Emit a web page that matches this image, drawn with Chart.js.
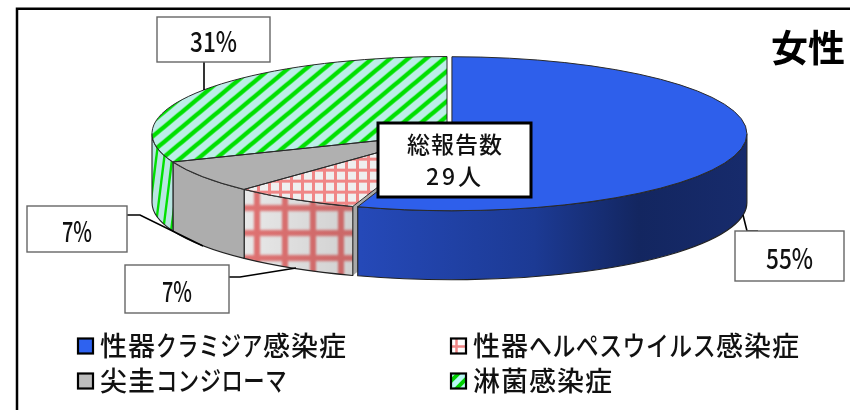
<!DOCTYPE html>
<html>
<head>
<meta charset="utf-8">
<style>
body { margin: 0; background: #fff; }
canvas { display: block; }
</style>
<script src="https://cdn.jsdelivr.net/npm/chart.js@4"></script>
</head>
<body>
<canvas id="pie" width="850" height="410"></canvas>
<script>
const categories = ['性器クラミジア感染症', '性器ヘルペスウイルス感染症', '尖圭コンジローマ', '淋菌感染症'];
const patientCounts = [16, 2, 2, 9];
const percentLabels = ['55%', '7%', '7%', '31%'];
const totalLines = ['総報告数', '29人'];
const chartTitle = '女性';

const FONT = '"Noto Sans CJK JP", "Noto Sans", sans-serif';
const TILT = 0.261;
const DEPTH = 69;
const EXPLODE = 5;

const canvas = document.getElementById('pie');

function makeTile(w, h, draw) {
    const t = document.createElement('canvas');
    t.width = w;
    t.height = h;
    draw(t.getContext('2d'), w, h);
    return t;
}

function gridTile(w, h, bg, line, lw, blur) {
    return makeTile(w, h, (c) => {
        c.fillStyle = bg;
        c.fillRect(0, 0, w, h);
        if (blur) c.filter = 'blur(' + blur + 'px)';
        c.strokeStyle = line;
        c.lineWidth = lw;
        c.beginPath();
        c.moveTo(w / 2, -10); c.lineTo(w / 2, h + 10);
        c.moveTo(-10, h / 2); c.lineTo(w + 10, h / 2);
        c.stroke();
    });
}

function stripeTile(w, h, bg, line, lw) {
    return makeTile(w, h, (c) => {
        c.fillStyle = bg;
        c.fillRect(0, 0, w, h);
        c.strokeStyle = line;
        c.lineWidth = lw;
        for (let dx = -w; dx <= w; dx += w) {
            c.beginPath();
            c.moveTo(dx - w, h * 2);
            c.lineTo(dx + w * 2, -h);
            c.stroke();
        }
    });
}

const patCtx = canvas.getContext('2d');

// patterns on the pie top are stretched back so the tilt does not squash them
function topPattern(tile) {
    const p = patCtx.createPattern(tile, 'repeat');
    p.setTransform(new DOMMatrix().scale(1, 1 / TILT));
    return p;
}

const pinkTop = topPattern(gridTile(11, 11, '#efefef', '#f08686', 3));
const greenTop = topPattern(stripeTile(18, 15, '#bdeee8', '#00e000', 4.4));

const pinkSide = patCtx.createPattern(gridTile(28, 25, '#e8e8e8', '#e07272', 6, 1.2), 'repeat');
pinkSide.setTransform(new DOMMatrix().translate(-9, -4.5));
const greenSide = patCtx.createPattern(stripeTile(8, 64, '#b9e6e2', '#00e000', 2.4), 'repeat');

const pinkKey = patCtx.createPattern(gridTile(11, 11, '#fff', '#f08686', 2.5), 'repeat');
const greenKey = patCtx.createPattern(stripeTile(13, 13, '#b8f8f4', '#00d000', 4), 'repeat');

const topColors = ['#2e5feb', pinkTop, '#b0b0b0', greenTop];
const keyColors = ['#2e62f0', pinkKey, '#bdbdbd', greenKey];

function pieCentre(chart) {
    const a = chart.chartArea;
    return { x: (a.left + a.right) / 2, y: (a.top + a.bottom) / 2 };
}

function applyTilt(ctx, chart, drop) {
    const cy = pieCentre(chart).y;
    ctx.translate(0, cy + drop);
    ctx.scale(1, TILT);
    ctx.translate(0, -cy);
}

function rimPoint(chart, arc, angle) {
    const cy = pieCentre(chart).y;
    return {
        x: arc.x + Math.cos(angle) * arc.outerRadius,
        y: cy + (arc.y - cy + Math.sin(angle) * arc.outerRadius) * TILT
    };
}

// outer wall between two angles, only the part facing the viewer
function wallPath(ctx, chart, arc) {
    const a0 = Math.max(arc.startAngle, 0);
    const a1 = Math.min(arc.endAngle, Math.PI);
    if (a1 <= a0) return false;
    ctx.beginPath();
    ctx.save();
    applyTilt(ctx, chart, 0);
    ctx.arc(arc.x, arc.y, arc.outerRadius, a0, a1);
    ctx.restore();
    ctx.save();
    applyTilt(ctx, chart, DEPTH);
    ctx.arc(arc.x, arc.y, arc.outerRadius, a1, a0, true);
    ctx.restore();
    ctx.closePath();
    return true;
}

function box(ctx, x0, y0, x1, y1, color, lw) {
    ctx.fillStyle = '#fff';
    ctx.fillRect(x0, y0, x1 - x0, y1 - y0);
    ctx.strokeStyle = color;
    ctx.lineWidth = lw;
    ctx.strokeRect(x0, y0, x1 - x0, y1 - y0);
}

function polyline(ctx, pts) {
    ctx.strokeStyle = '#000';
    ctx.lineWidth = 1.6;
    ctx.beginPath();
    pts.forEach((p, i) => (i ? ctx.lineTo(p[0], p[1]) : ctx.moveTo(p[0], p[1])));
    ctx.stroke();
}

const pie3d = {
    id: 'pie3d',
    afterDatasetsUpdate(chart) {
        // pull the biggest slice out of the pie
        const arc = chart.getDatasetMeta(0).data[0];
        const mid = (arc.startAngle + arc.endAngle) / 2;
        arc.x += Math.cos(mid) * EXPLODE;
        arc.y += Math.sin(mid) * EXPLODE;
    },
    beforeDatasetsDraw(chart) {
        const ctx = chart.ctx;
        const arcs = chart.getDatasetMeta(0).data;
        const wallFills = [null, pinkSide, '#adadad', greenSide];

        // cut face of the slice next to the exploded one
        const p = arcs[1];
        const rim = rimPoint(chart, p, p.startAngle);
        const c = pieCentre(chart);
        ctx.fillStyle = '#a8a8a8';
        ctx.beginPath();
        ctx.moveTo(rim.x, rim.y);
        ctx.lineTo(c.x, c.y);
        ctx.lineTo(c.x, c.y + DEPTH);
        ctx.lineTo(rim.x, rim.y + DEPTH);
        ctx.closePath();
        ctx.fill();

        arcs.forEach((arc, i) => {
            if (!wallPath(ctx, chart, arc)) return;
            if (i === 0) {
                const g = ctx.createLinearGradient(arc.x - arc.outerRadius * 0.31, 0, arc.x + arc.outerRadius, 0);
                g.addColorStop(0, '#2549b8');
                g.addColorStop(0.45, '#1c3a94');
                g.addColorStop(0.72, '#132660');
                g.addColorStop(1, '#172b6c');
                ctx.fillStyle = g;
            } else {
                ctx.fillStyle = wallFills[i];
            }
            ctx.fill();
            if (i === 1) {
                const g = ctx.createLinearGradient(rimPoint(chart, arc, arc.endAngle).x, 0, rimPoint(chart, arc, arc.startAngle).x, 0);
                g.addColorStop(0, 'rgba(0,0,0,0)');
                g.addColorStop(1, 'rgba(0,0,0,0.1)');
                ctx.fillStyle = g;
                ctx.fill();
            }
            ctx.strokeStyle = '#222';
            ctx.lineWidth = 1.1;
            ctx.stroke();
        });

        ctx.save();
        applyTilt(ctx, chart, 0);
    },
    afterDatasetsDraw(chart) {
        const ctx = chart.ctx;
        ctx.restore();
        const arcs = chart.getDatasetMeta(0).data;

        // slice outlines are stroked outside the tilt so they stay an even width
        ctx.strokeStyle = '#2a2a2a';
        ctx.lineWidth = 1;
        arcs.forEach((arc) => {
            ctx.beginPath();
            ctx.save();
            applyTilt(ctx, chart, 0);
            ctx.moveTo(arc.x, arc.y);
            ctx.arc(arc.x, arc.y, arc.outerRadius, arc.startAngle, arc.endAngle);
            ctx.closePath();
            ctx.restore();
            ctx.stroke();
        });

        drawLabels(ctx);
        drawLegend(ctx);
        drawFrame(ctx, chart);
    }
};

function drawLabels(ctx) {
    polyline(ctx, [[758, 231], [747, 231], [743, 215]]);
    polyline(ctx, [[127, 215], [140, 215], [203, 246]]);
    polyline(ctx, [[229, 277], [240, 277], [296, 268]]);
    polyline(ctx, [[204, 62], [204, 90]]);

    // one box per slice, in the same order as the categories
    const boxes = [[735, 231, 844, 281], [125, 265, 229, 313], [27, 206, 127, 252], [157, 17, 270, 62]];
    const textWidths = [47, 30, 30, 47];
    ctx.textAlign = 'center';
    ctx.textBaseline = 'middle';
    boxes.forEach((b, i) => {
        box(ctx, b[0], b[1], b[2], b[3], '#666', 1.4);
        ctx.fillStyle = '#111';
        ctx.font = '500 28px ' + FONT;
        ctx.fillText(percentLabels[i], (b[0] + b[2]) / 2, (b[1] + b[3]) / 2 + 2, textWidths[i]);
    });

    box(ctx, 378, 123, 531, 197, '#000', 3);
    ctx.fillStyle = '#111';
    ctx.font = '500 23px ' + FONT;
    ctx.letterSpacing = '1px';
    ctx.fillText(totalLines[0], 455, 144);
    ctx.letterSpacing = '3px';
    ctx.fillText(totalLines[1], 455, 176);
    ctx.letterSpacing = '0px';

    ctx.font = 'bold 37px ' + FONT;
    ctx.fillStyle = '#000';
    ctx.fillText(chartTitle, 808, 48);
}

// kanji keep a full square, katakana share what is left of the line width
function legendText(ctx, name, x, y, width) {
    const kanjiW = 28;
    const chars = Array.from(name);
    const kana = chars.filter((ch) => /[\u30a0-\u30ff]/.test(ch)).length;
    const kanaW = kana ? (width - (chars.length - kana) * kanjiW) / kana : 0;
    chars.forEach((ch) => {
        const w = /[\u30a0-\u30ff]/.test(ch) ? kanaW : kanjiW;
        ctx.fillText(ch, x, y, w - 0.5);
        x += w;
    });
}

function drawLegend(ctx) {
    const xs = [78, 451, 78, 451];
    const ys = [346, 346, 381, 381];
    const widths = [247, 327, 187, 142];
    ctx.textAlign = 'left';
    ctx.textBaseline = 'middle';
    ctx.font = '500 27px ' + FONT;
    categories.forEach((name, i) => {
        ctx.fillStyle = keyColors[i];
        ctx.fillRect(xs[i], ys[i] - 7.5, 15, 15);
        ctx.strokeStyle = '#000';
        ctx.lineWidth = 2.2;
        ctx.strokeRect(xs[i], ys[i] - 7.5, 15, 15);
        ctx.fillStyle = '#111';
        legendText(ctx, name, xs[i] + 22, ys[i], widths[i]);
    });
}

function drawFrame(ctx, chart) {
    ctx.strokeStyle = '#000';
    ctx.lineWidth = 2.5;
    ctx.beginPath();
    ctx.moveTo(17, chart.height);
    ctx.lineTo(17, 8.7);
    ctx.lineTo(chart.width, 8.7);
    ctx.stroke();
}

new Chart(canvas, {
    type: 'pie',
    data: {
        labels: categories,
        datasets: [{
            data: patientCounts,
            backgroundColor: topColors,
            borderWidth: 0,
            clip: false
        }]
    },
    options: {
        responsive: false,
        animation: false,
        radius: 295,
        layout: { padding: { left: 44, right: 0, top: 0, bottom: 143 } },
        plugins: {
            legend: { display: false },
            tooltip: { enabled: false }
        }
    },
    plugins: [pie3d]
});
</script>
</body>
</html>
